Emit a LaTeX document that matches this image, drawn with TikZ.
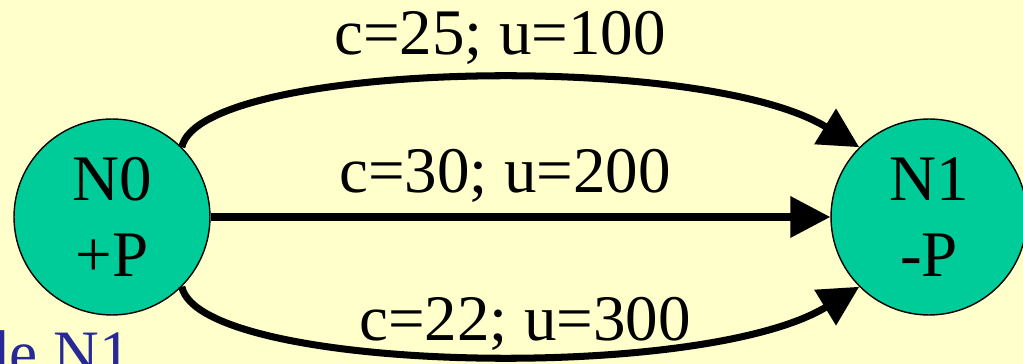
\documentclass[tikz,border=0pt]{standalone}
\usepackage{fontspec}
\setmainfont{Liberation Serif}
\usetikzlibrary{arrows.meta, positioning}
\definecolor{BG}{RGB}{255,255,204}
\definecolor{TQ}{RGB}{0,204,153}
\definecolor{DB}{RGB}{40,40,150}

\begin{document}
\begin{tikzpicture}[
  x=0.02cm, y=-0.02cm,
  state/.style={circle, draw=black, thick, fill=TQ, minimum size=3.92cm,
                inner sep=0pt, align=center, font=\fontsize{37}{43}\selectfont},
  flow/.style={line width=4pt, -{Triangle[length=0.8cm, width=0.8cm]}},
  cost/.style={font=\fontsize{37}{44}\selectfont, anchor=base}
]
\fill[BG] (0,0) rectangle (1023,364);
\useasboundingbox (0,0) rectangle (1023,364);

\node[state] (N0) at (112,217) {N0\\+P};
\node[state] (N1) at (929,217) {N1\\-P};

% three arcs between the nodes
\draw[flow] (N0.45) .. controls (200,62) and (700,50) .. (N1.135);
\draw[flow] (N0) -- (N1);
\draw[flow] (N0.-45) .. controls (200,372) and (700,384) .. (N1.-135);

\node[cost] (cA) at (500,55)  {c=25; u=100};
\node[cost] (cB) at (505,193) {c=30; u=200};
\node[cost] (cC) at (525,340) {c=22; u=300};

\node[font=\fontsize{36}{40}\selectfont, text=DB, anchor=base east] (lbl) at (137,374) {de N1};
\end{tikzpicture}
\end{document}
